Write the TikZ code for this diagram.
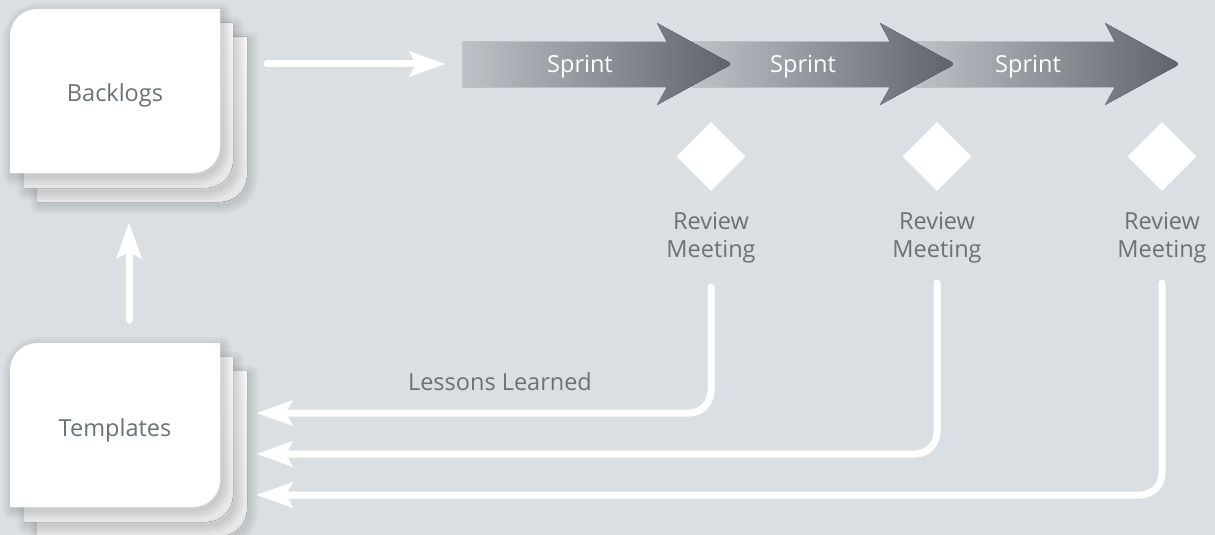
\documentclass[tikz,border=0pt]{standalone}
\usepackage{fontspec}
\setmainfont{Open Sans}
\usetikzlibrary{arrows.meta,shapes.geometric}
\definecolor{bg}{HTML}{DADFE3}
\definecolor{txt}{HTML}{6B7276}
\definecolor{slight}{HTML}{BCC2C6}
\definecolor{sdark}{HTML}{5D6469}
\definecolor{cardtop}{HTML}{F4F4F4}
\definecolor{cardbot}{HTML}{E6E6E6}
\newcommand\cardshape[4]{({#1},{#4}) -- ({#1},{#2+27}) .. controls ({#1},{#2+12.1}) and ({#1+12.1},{#2}) .. ({#1+27},{#2}) -- ({#3},{#2}) -- ({#3},{#4-27}) .. controls ({#3},{#4-12.1}) and ({#3-12.1},{#4}) .. ({#3-27},{#4}) -- cycle}
\newcommand\shadowcard[4]{%
  \foreach \w in {18,13,8,3}{\draw[black,draw opacity=0.03,line width=\w pt,line join=round] \cardshape{#1+2}{#2+3}{#3+2}{#4+3};}%
}
\newcommand\cardstack[2]{%
  \shadowcard{#1+27}{#2+28}{#1+237}{#2+193}%
  \fill[top color=cardtop,bottom color=cardbot] \cardshape{#1+27}{#2+28}{#1+237}{#2+193};%
  \shadowcard{#1+14}{#2+14}{#1+223}{#2+179}%
  \fill[top color=cardtop,bottom color=cardbot] \cardshape{#1+14}{#2+14}{#1+223}{#2+179};%
  \shadowcard{#1}{#2}{#1+210}{#2+164}%
  \fill[white] \cardshape{#1}{#2}{#1+210}{#2+164};%
}
\newcommand\sprintshape[2]{%
  \fill[left color=slight,right color=sdark] ({#1},42) -- ({#2-65},42) -- ({#2-75},23) -- ({#2-11},58) .. controls ({#2+1},64) and ({#2+1},64) .. ({#2-11},70) -- ({#2-75},105) -- ({#2-65},87) -- ({#1},87) -- cycle;%
}
\tikzset{
  lbl/.style={text=txt,font=\fontsize{23.5}{28}\selectfont,inner sep=0pt},
  cardtext/.style={lbl,anchor=base},
  sprinttext/.style={text=white,font=\fontsize{23.5}{28}\selectfont,inner sep=0pt,anchor=base},
  review/.style={diamond,fill=white,minimum width=69pt,minimum height=69pt,inner sep=0pt,aspect=1},
  rmtext/.style={lbl,align=center,anchor=base},
  conn/.style={white,line width=7pt,line cap=round,
    -{Stealth[length=36pt,width=26pt,inset=7pt,line width=0.01pt]}},
  fb/.style={conn,rounded corners=22pt}
}
\begin{document}
\begin{tikzpicture}[x=1pt,y=-1pt]
\useasboundingbox (0,0) rectangle (1215,535);
\fill[bg] (0,0) rectangle (1215,535);
% cards
\cardstack{10}{9}
\cardstack{10}{343}
\node[cardtext] (backlogs) at (115,101) {Backlogs};
\node[cardtext] (templates) at (115,436) {Templates};
% sprint arrows (later ones underneath)
\sprintshape{915}{1180}
\sprintshape{692}{955}
\sprintshape{462}{732}
\node[sprinttext] (sprint1) at (580,72) {Sprint};
\node[sprinttext] (sprint2) at (803,72) {Sprint};
\node[sprinttext] (sprint3) at (1028,72) {Sprint};
% review meetings
\node[review] (rv1) at (711,156.5) {};
\node[review] (rv2) at (937,156.5) {};
\node[review] (rv3) at (1162,156.5) {};
\node[rmtext] (rm1) at (711,257) {Review\\Meeting};
\node[rmtext] (rm2) at (937,257) {Review\\Meeting};
\node[rmtext] (rm3) at (1162,257) {Review\\Meeting};
\node[cardtext] (lessons) at (500,390) {Lessons Learned};
% connector end points
\coordinate (bs) at (267,64);
\coordinate (be) at (445,64);
\coordinate (us) at (129,320);
\coordinate (ue) at (129,223);
\coordinate (f1s) at (711,287);
\coordinate (f2s) at (937,283);
\coordinate (f3s) at (1162,283);
\coordinate (t1) at (257,413);
\coordinate (t2) at (257,454);
\coordinate (t3) at (257,495);
\draw[conn] (bs) -- (be);
\draw[conn] (us) -- (ue);
\draw[fb] (f1s) |- (t1);
\draw[fb] (f2s) |- (t2);
\draw[fb] (f3s) |- (t3);
\end{tikzpicture}
\end{document}
